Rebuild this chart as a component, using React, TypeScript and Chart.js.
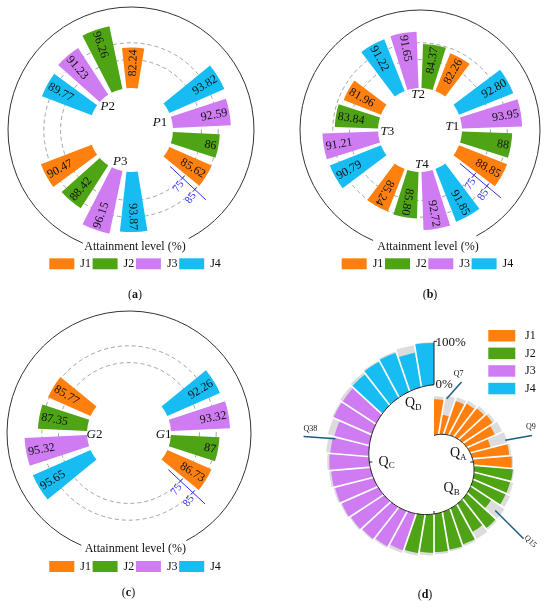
import React, { useEffect, useRef } from 'react';
import { Chart, registerables } from 'chart.js';

Chart.register(...registerables);

const FONT = '"Liberation Serif", "Times New Roman", serif';
const seriesNames = ['J1', 'J2', 'J3', 'J4'];
const seriesColors = ['#FF800E', '#4EA415', '#CF7CF2', '#17BDF2'];
const axisTitle = 'Attainment level (%)';

// (a) groups P1..P3
const groupsA = ['P1', 'P2', 'P3'];
const aJ1 = [85.62, 82.24, 90.47];
const aJ2 = [86, 96.26, 88.42];
const aJ3 = [92.59, 91.23, 96.15];
const aJ4 = [93.82, 89.77, 93.87];

// (b) groups T1..T4
const groupsB = ['T1', 'T2', 'T3', 'T4'];
const bJ1 = [88.85, 82.26, 81.96, 85.24];
const bJ2 = [88, 84.37, 83.84, 85.8];
const bJ3 = [93.95, 91.65, 91.21, 92.72];
const bJ4 = [92.8, 91.22, 90.79, 91.85];

// (c) groups G1, G2
const groupsC = ['G1', 'G2'];
const cJ1 = [86.73, 85.77];
const cJ2 = [87, 87.35];
const cJ3 = [93.32, 95.32];
const cJ4 = [92.26, 95.65];

// radial axis of (a)-(c)
const gridTicks = [75, 85];
const radialMin = 33;
const radialMax = 98.6;
const barBase = 58;

// (d) attainment per question, grouped QA..QD
const qGroups = ['A', 'B', 'C', 'D'];
const dJ1 = [92, 50, 90, 91, 92, 93, 80, 55, 95, 97];
const dJ2 = [97, 92, 88, 60, 95, 80, 95, 96, 95, 93, 94];
const dJ3 = [93, 96, 97, 97, 97, 96, 95, 95, 90, 84, 97, 93];
const dJ4 = [94, 97, 97, 82, 98];
const dTickLabels = ['0%', '100%'];
const calloutLabels = ['Q7', 'Q9', 'Q15', 'Q38'];

const fmt = (v: number) => (Number.isInteger(v) ? String(v) : v.toFixed(2));
const rad = (deg: number) => (deg * Math.PI) / 180;

type RadialPanel = {
  groups: string[];
  series: number[][];
  centers: number[];
  labelPos: [number, number][];
  barW: number;
  gapW: number;
  flip: number;
  axis: { angle: number; from: number; to: number };
  circleR: number;
  box: { left: number; top: number; size: number };
  height: number;
  title: [number, number];
  legend: [number, number];
  caption: { text: string; x: number; y: number };
};

const panelA: RadialPanel = {
  groups: groupsA,
  series: [aJ1, aJ2, aJ3, aJ4],
  centers: [90, 330, 210],
  labelPos: [[75, 30], [315, 33], [199, 33]],
  barW: 15.5,
  gapW: 5.5,
  flip: 190,
  axis: { angle: 133, from: 65, to: 94 },
  circleR: 123,
  box: { left: 21, top: 20, size: 220 },
  height: 300,
  title: [135, 247],
  legend: [49.3, 258.3],
  caption: { text: 'a', x: 135, y: 295 },
};

const panelB: RadialPanel = {
  groups: groupsB,
  series: [bJ1, bJ2, bJ3, bJ4],
  centers: [90, 0, 270, 180],
  labelPos: [[84, 32.5], [357, 35], [267, 32.7], [177, 35]],
  barW: 15.5,
  gapW: 4,
  flip: 225,
  axis: { angle: 130, from: 64, to: 96 },
  circleR: 120,
  box: { left: 35, top: 20, size: 220 },
  height: 300,
  title: [153, 247.3],
  legend: [66.7, 258.3],
  caption: { text: 'b', x: 155, y: 295 },
};

const panelC: RadialPanel = {
  groups: groupsC,
  series: [cJ1, cJ2, cJ3, cJ4],
  centers: [90, 270],
  labelPos: [[93, 34.7], [267, 34.5]],
  barW: 15.5,
  gapW: 5.5,
  flip: 190,
  axis: { angle: 133, from: 65, to: 95 },
  circleR: 122,
  box: { left: 19, top: 23, size: 220 },
  height: 308,
  title: [135.3, 249.3],
  legend: [49.3, 261],
  caption: { text: 'c', x: 128.5, y: 293.3 },
};

type Slot = { bar: boolean; width: number; value: number; color: string };

function buildSlots(p: RadialPanel) {
  const span = 4 * p.barW + 3 * p.gapW;
  const bars: { start: number; value: number; color: string }[] = [];
  p.centers.forEach((c, gi) => {
    // clockwise order inside a group: J4, J3, J2, J1
    for (let k = 0; k < 4; k++) {
      const s = 3 - k;
      bars.push({ start: c - span / 2 + k * (p.barW + p.gapW), value: p.series[s][gi], color: seriesColors[s] });
    }
  });
  const first = bars[0].start;
  bars.forEach((b) => {
    b.start = first + ((((b.start - first) % 360) + 360) % 360);
  });
  bars.sort((u, v) => u.start - v.start);
  const slots: Slot[] = [];
  let cursor = first;
  bars.forEach((b) => {
    if (b.start - cursor > 0.01) slots.push({ bar: false, width: b.start - cursor, value: radialMin, color: 'rgba(0,0,0,0)' });
    slots.push({ bar: true, width: p.barW, value: b.value, color: b.color });
    cursor = b.start + p.barW;
  });
  if (first + 360 - cursor > 0.01) slots.push({ bar: false, width: first + 360 - cursor, value: radialMin, color: 'rgba(0,0,0,0)' });
  return { slots, start: first };
}

function drawCaption(ctx: CanvasRenderingContext2D, letter: string, x: number, y: number) {
  ctx.font = `12px ${FONT}`;
  const wl = ctx.measureText('(').width;
  const wr = ctx.measureText(')').width;
  ctx.font = `bold 12px ${FONT}`;
  const wm = ctx.measureText(letter).width;
  let x0 = x - (wl + wm + wr) / 2;
  ctx.fillStyle = '#111';
  ctx.textAlign = 'left';
  ctx.textBaseline = 'middle';
  ctx.font = `12px ${FONT}`;
  ctx.fillText('(', x0, y);
  x0 += wl;
  ctx.font = `bold 12px ${FONT}`;
  ctx.fillText(letter, x0, y);
  x0 += wm;
  ctx.font = `12px ${FONT}`;
  ctx.fillText(')', x0, y);
}

function drawGroupLabel(ctx: CanvasRenderingContext2D, text: string, x: number, y: number) {
  const letter = text[0];
  const rest = text.slice(1);
  ctx.font = `italic 13px ${FONT}`;
  const w1 = ctx.measureText(letter).width;
  ctx.font = `13px ${FONT}`;
  const w2 = ctx.measureText(rest).width;
  const x0 = x - (w1 + w2) / 2;
  ctx.fillStyle = '#111';
  ctx.textAlign = 'left';
  ctx.textBaseline = 'middle';
  ctx.font = `italic 13px ${FONT}`;
  ctx.fillText(letter, x0, y);
  ctx.font = `13px ${FONT}`;
  ctx.fillText(rest, x0 + w1, y);
}

function makeRadialPlugin(p: RadialPanel, slots: Slot[]) {
  return {
    id: 'radialExtras',
    afterDatasetsUpdate(chart: any) {
      const sc = chart.scales.r;
      const inner = sc.getDistanceFromCenterForValue(barBase);
      chart.getDatasetMeta(0).data.forEach((el: any, i: number) => {
        if (slots[i].bar) el.innerRadius = inner;
      });
    },
    afterDatasetsDraw(chart: any) {
      const ctx: CanvasRenderingContext2D = chart.ctx;
      const sc = chart.scales.r;
      const cx = sc.xCenter;
      const cy = sc.yCenter;
      const pol = (r: number, deg: number): [number, number] => [cx + r * Math.cos(rad(deg - 90)), cy + r * Math.sin(rad(deg - 90))];

      // value labels at the outer end of each bar
      ctx.save();
      ctx.font = `12px ${FONT}`;
      ctx.fillStyle = '#111';
      ctx.textBaseline = 'middle';
      chart.getDatasetMeta(0).data.forEach((el: any, i: number) => {
        if (!slots[i].bar) return;
        const mid = (el.startAngle + el.endAngle) / 2;
        const deg = ((((mid * 180) / Math.PI + 90) % 360) + 360) % 360;
        const outward = deg < p.flip;
        const r = el.outerRadius - 2;
        ctx.save();
        ctx.translate(cx + r * Math.cos(mid), cy + r * Math.sin(mid));
        ctx.rotate(outward ? mid : mid + Math.PI);
        ctx.textAlign = outward ? 'right' : 'left';
        ctx.fillText(fmt(slots[i].value), 0, 0.5);
        ctx.restore();
      });
      ctx.restore();

      // blue radial axis with 75 / 85 ticks
      const blue = '#2E2EF2';
      const a = p.axis.angle;
      const [x1, y1] = pol(sc.getDistanceFromCenterForValue(p.axis.from), a);
      const [x2, y2] = pol(sc.getDistanceFromCenterForValue(p.axis.to), a);
      ctx.save();
      ctx.strokeStyle = blue;
      ctx.fillStyle = blue;
      ctx.lineWidth = 1;
      ctx.beginPath();
      ctx.moveTo(x1, y1);
      ctx.lineTo(x2, y2);
      ctx.stroke();
      const px = Math.cos(rad(a));
      const py = Math.sin(rad(a));
      ctx.font = `11px ${FONT}`;
      ctx.textAlign = 'center';
      ctx.textBaseline = 'middle';
      gridTicks.forEach((v) => {
        const rr = sc.getDistanceFromCenterForValue(v);
        const [tx, ty] = pol(rr, a);
        ctx.beginPath();
        ctx.moveTo(tx - px * 3, ty - py * 3);
        ctx.lineTo(tx + px * 3, ty + py * 3);
        ctx.stroke();
        const [lx, ly] = pol(rr + 3, a);
        ctx.save();
        ctx.translate(lx + px * 9, ly + py * 9);
        ctx.rotate(rad(a - 188));
        ctx.fillText(String(v), 0, 0);
        ctx.restore();
      });
      ctx.restore();
    },
    afterDraw(chart: any) {
      const ctx: CanvasRenderingContext2D = chart.ctx;
      const sc = chart.scales.r;
      const cx = sc.xCenter;
      const cy = sc.yCenter;
      const pol = (r: number, deg: number): [number, number] => [cx + r * Math.cos(rad(deg - 90)), cy + r * Math.sin(rad(deg - 90))];
      ctx.save();
      // outer frame circle, open at the bottom for the axis title
      ctx.strokeStyle = '#333';
      ctx.lineWidth = 1;
      ctx.beginPath();
      ctx.arc(cx, cy, p.circleR, rad(203 - 90), rad(152 + 360 - 90));
      ctx.stroke();

      p.groups.forEach((g, i) => {
        const [x, y] = pol(p.labelPos[i][1], p.labelPos[i][0]);
        drawGroupLabel(ctx, g, x, y);
      });

      ctx.fillStyle = '#111';
      ctx.font = `12px ${FONT}`;
      ctx.textAlign = 'center';
      ctx.textBaseline = 'middle';
      ctx.fillText(axisTitle, p.title[0], p.title[1]);

      seriesNames.forEach((name, i) => {
        const x = p.legend[0] + i * 43.3;
        ctx.fillStyle = seriesColors[i];
        ctx.fillRect(x, p.legend[1], 25, 11);
        ctx.fillStyle = '#111';
        ctx.font = `12px ${FONT}`;
        ctx.textAlign = 'left';
        ctx.textBaseline = 'middle';
        ctx.fillText(name, x + 31, p.legend[1] + 6);
      });

      drawCaption(ctx, p.caption.text, p.caption.x, p.caption.y);
      ctx.restore();
    },
  };
}

const RadialChart: React.FC<{ panel: RadialPanel; x: number; y: number }> = ({ panel, x, y }) => {
  const canvasRef = useRef<HTMLCanvasElement>(null);

  useEffect(() => {
    if (!canvasRef.current) return;
    const { slots, start } = buildSlots(panel);
    const b = panel.box;
    const chart = new Chart(canvasRef.current, {
      type: 'polarArea',
      data: {
        labels: slots.map((_, i) => String(i)),
        datasets: [
          {
            data: slots.map((s) => s.value),
            backgroundColor: slots.map((s) => s.color),
            borderWidth: 0,
            angle: (ctx: any) => slots[ctx.dataIndex].width,
            clip: false,
          } as any,
        ],
      },
      options: {
        animation: false,
        responsive: false,
        events: [],
        layout: {
          padding: { left: b.left, top: b.top, right: 275 - b.left - b.size, bottom: panel.height - b.top - b.size },
        },
        plugins: { legend: { display: false }, tooltip: { enabled: false } },
        scales: {
          r: {
            min: radialMin,
            max: radialMax,
            startAngle: start,
            ticks: { display: false },
            angleLines: { display: false },
            pointLabels: { display: false },
            grid: { circular: true, color: '#9a9a9a', lineWidth: 0.9 },
            border: { dash: [4, 3] },
            afterBuildTicks: (scale: any) => {
              scale.ticks = [radialMin, ...gridTicks].map((v) => ({ value: v }));
            },
          } as any,
        },
      },
      plugins: [makeRadialPlugin(panel, slots)],
    });
    return () => {
      chart.destroy();
    };
  }, [panel]);

  return (
    <canvas
      ref={canvasRef}
      width={275}
      height={panel.height}
      style={{ position: 'absolute', left: x, top: y, display: 'block' }}
    />
  );
};

// ---- (d) spiral bar chart ----
const spiralStart = 61.4; // baseline at 0 deg, in % of the 100% bar
const spiralTurn = 117.3; // baseline growth per turn
const lenStart = 88.9;
const lenEnd = 100;

const SpiralChart: React.FC<{ x: number; y: number }> = ({ x, y }) => {
  const canvasRef = useRef<HTMLCanvasElement>(null);

  useEffect(() => {
    if (!canvasRef.current) return;
    const groups = [dJ1, dJ2, dJ3, dJ4];
    const values = groups.flat();
    const colors = groups.flatMap((g, gi) => g.map(() => seriesColors[gi]));
    const n = values.length;
    const pitch = 360 / n;
    const theta = values.map((_, i) => (i + 0.5) * pitch);
    const base = theta.map((t) => spiralStart + (spiralTurn * t) / 360);
    const len = theta.map((t) => lenStart + ((lenEnd - lenStart) * t) / 360);
    const baseAt = (t: number) => spiralStart + (spiralTurn * t) / 360;

    const plugin = {
      id: 'spiralExtras',
      afterDatasetsUpdate(chart: any) {
        const sc = chart.scales.r;
        [0, 1].forEach((di) => {
          chart.getDatasetMeta(di).data.forEach((el: any, i: number) => {
            el.innerRadius = sc.getDistanceFromCenterForValue(base[i]);
          });
        });
      },
      afterDatasetsDraw(chart: any) {
        const ctx: CanvasRenderingContext2D = chart.ctx;
        const sc = chart.scales.r;
        const cx = sc.xCenter;
        const cy = sc.yCenter;
        const d = (u: number) => sc.getDistanceFromCenterForValue(u);
        const meta = chart.getDatasetMeta(0);
        ctx.save();
        // white separators between neighbouring bars
        ctx.strokeStyle = '#fff';
        ctx.lineWidth = 1.7;
        for (let i = 1; i < n; i++) {
          const a = meta.data[i].startAngle;
          const r1 = d(Math.min(base[i - 1], base[i])) - 1;
          const r2 = d(Math.max(base[i - 1] + len[i - 1], base[i] + len[i])) + 1;
          ctx.beginPath();
          ctx.moveTo(cx + r1 * Math.cos(a), cy + r1 * Math.sin(a));
          ctx.lineTo(cx + r2 * Math.cos(a), cy + r2 * Math.sin(a));
          ctx.stroke();
        }
        // spiral baseline
        ctx.strokeStyle = '#222';
        ctx.lineWidth = 1;
        ctx.beginPath();
        for (let t = 0; t <= 360; t += 2) {
          const r = d(baseAt(t));
          const a = rad(t - 90);
          if (t === 0) ctx.moveTo(cx + r * Math.cos(a), cy + r * Math.sin(a));
          else ctx.lineTo(cx + r * Math.cos(a), cy + r * Math.sin(a));
        }
        ctx.stroke();
        [90, 180, 270].forEach((t) => {
          const r = d(baseAt(t));
          const a = rad(t - 90);
          ctx.beginPath();
          ctx.moveTo(cx + r * Math.cos(a), cy + r * Math.sin(a));
          ctx.lineTo(cx + (r - 3) * Math.cos(a), cy + (r - 3) * Math.sin(a));
          ctx.stroke();
        });
        // radial 0-100% axis at the end of the spiral
        const r0 = d(baseAt(360));
        const r100 = d(baseAt(360) + 100);
        ctx.beginPath();
        ctx.moveTo(cx, cy - r0);
        ctx.lineTo(cx, cy - r100);
        ctx.moveTo(cx, cy - r100);
        ctx.lineTo(cx + 3, cy - r100);
        ctx.stroke();
        ctx.fillStyle = '#111';
        ctx.font = `13px ${FONT}`;
        ctx.textAlign = 'left';
        ctx.textBaseline = 'middle';
        ctx.fillText(dTickLabels[0], cx + 1.5, cy - r0);
        ctx.fillText(dTickLabels[1], cx + 1.5, cy - r100 + 1);
        ctx.restore();
      },
      afterDraw(chart: any) {
        const ctx: CanvasRenderingContext2D = chart.ctx;
        const sc = chart.scales.r;
        const cx = sc.xCenter;
        const cy = sc.yCenter;
        const pol = (r: number, deg: number): [number, number] => [cx + r * Math.cos(rad(deg - 90)), cy + r * Math.sin(rad(deg - 90))];
        ctx.save();
        // group names Q_A..Q_D
        const qPos: [number, number][] = [[71, 25.7], [146.6, 32], [270, 47.4], [340.4, 61.9]];
        qGroups.forEach((g, i) => {
          const [qx, qy] = pol(qPos[i][1], qPos[i][0]);
          ctx.font = `14px ${FONT}`;
          const wq = ctx.measureText('Q').width;
          ctx.font = `9px ${FONT}`;
          const ws = ctx.measureText(g).width;
          const x0 = qx - (wq + ws) / 2;
          ctx.fillStyle = '#111';
          ctx.textAlign = 'left';
          ctx.textBaseline = 'middle';
          ctx.font = `14px ${FONT}`;
          ctx.fillText('Q', x0, qy);
          ctx.font = `9px ${FONT}`;
          ctx.fillText(g, x0 + wq, qy + 4);
        });
        // call-outs
        const callouts = [
          { a1: 11.3, r1: 64.5, a2: 19, r2: 84.5, la: 15.7, lr: 91, rot: 0 },
          { a1: 73.1, r1: 74.5, a2: 74.8, r2: 101.5, la: 70, lr: 103, rot: 0 },
          { a1: 128.3, r1: 78.1, a2: 130.6, r2: 118, la: 129.5, lr: 125, rot: 45 },
          { a1: 283.3, r1: 101.4, a2: 281.1, r2: 132.9, la: 285, lr: 128, rot: 0 },
        ];
        ctx.strokeStyle = '#1D5E7E';
        ctx.lineWidth = 1.5;
        callouts.forEach((c, i) => {
          const [x1, y1] = pol(c.r1, c.a1);
          const [x2, y2] = pol(c.r2, c.a2);
          ctx.beginPath();
          ctx.moveTo(x1, y1);
          ctx.lineTo(x2, y2);
          ctx.stroke();
          const [lx, ly] = pol(c.lr, c.la);
          ctx.save();
          ctx.translate(lx, ly);
          ctx.rotate(rad(c.rot));
          ctx.fillStyle = '#111';
          ctx.font = `8px ${FONT}`;
          ctx.textAlign = 'center';
          ctx.textBaseline = 'middle';
          ctx.fillText(calloutLabels[i], 0, 0);
          ctx.restore();
        });
        // legend
        seriesNames.forEach((name, i) => {
          const ly = 30 + i * 17.6;
          ctx.fillStyle = seriesColors[i];
          ctx.fillRect(213.3, ly, 27, 11.5);
          ctx.fillStyle = '#111';
          ctx.font = `12px ${FONT}`;
          ctx.textAlign = 'left';
          ctx.textBaseline = 'middle';
          ctx.fillText(name, 250, ly + 6);
        });
        drawCaption(ctx, 'd', 150, 295);
        ctx.restore();
      },
    };

    const chart = new Chart(canvasRef.current, {
      type: 'polarArea',
      data: {
        labels: values.map((_, i) => 'Q' + (i + 1)),
        datasets: [
          {
            data: values.map((v, i) => base[i] + (len[i] * v) / 100),
            backgroundColor: colors,
            borderWidth: 0,
            clip: false,
          } as any,
          {
            data: values.map((_, i) => base[i] + len[i]),
            backgroundColor: '#DCDCDC',
            borderWidth: 0,
            clip: false,
          } as any,
        ],
      },
      options: {
        animation: false,
        responsive: false,
        events: [],
        layout: { padding: { left: 44, top: 47, right: 1, bottom: 31 } },
        plugins: { legend: { display: false }, tooltip: { enabled: false } },
        scales: {
          r: {
            min: 0,
            max: 265.6,
            startAngle: 0,
            ticks: { display: false },
            grid: { display: false },
            angleLines: { display: false },
            pointLabels: { display: false },
          } as any,
        },
      },
      plugins: [plugin],
    });
    return () => {
      chart.destroy();
    };
  }, []);

  return (
    <canvas ref={canvasRef} width={275} height={308} style={{ position: 'absolute', left: x, top: y, display: 'block' }} />
  );
};

export default function App() {
  return (
    <div style={{ position: 'absolute', left: 0, top: 0, width: 550, height: 608, background: '#fff' }}>
      <RadialChart panel={panelA} x={0} y={0} />
      <RadialChart panel={panelB} x={275} y={0} />
      <RadialChart panel={panelC} x={0} y={300} />
      <SpiralChart x={275} y={300} />
    </div>
  );
}
